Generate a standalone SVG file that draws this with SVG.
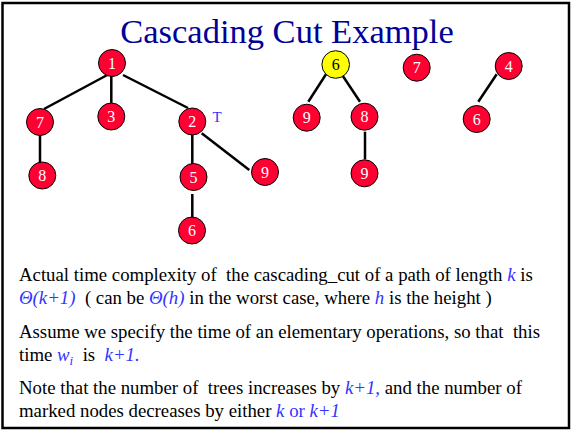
<svg xmlns="http://www.w3.org/2000/svg" width="572" height="430" viewBox="0 0 572 430">
<style>
.n{fill:#FF0033;stroke:#000;stroke-width:1}
.y{fill:#FFFF00;stroke:#000;stroke-width:1}
.nt{font-family:"Liberation Serif",serif;font-size:16px;fill:#fff;text-anchor:middle}
.yt{font-family:"Liberation Serif",serif;font-size:16px;fill:#000;text-anchor:middle}
.e{stroke:#000;stroke-width:2.5;fill:none}
.body{font-family:"Liberation Serif",serif;font-size:18.8px;fill:#000}
.b{fill:#3333FF}
.i{font-style:italic}
</style>
<rect x="2.5" y="3" width="566.5" height="425" fill="#fff" stroke="#000" stroke-width="2.5"/>
<text x="287" y="43" text-anchor="middle" font-family="Liberation Serif,serif" font-size="34.5" fill="#000099">Cascading Cut Example</text>
<g id="connectors">
<line class="e" x1="111" y1="73" x2="44" y2="109"/>
<line class="e" x1="111.3" y1="73" x2="111.3" y2="103"/>
<line class="e" x1="123" y1="75" x2="188" y2="108"/>
<line class="e" x1="40" y1="135" x2="40" y2="163"/>
<line class="e" x1="192.3" y1="135" x2="192.3" y2="165"/>
<line class="e" x1="201.7" y1="133.3" x2="249.3" y2="170"/>
<line class="e" x1="192.3" y1="194" x2="192.3" y2="218"/>
<line class="e" x1="326" y1="74.3" x2="308.3" y2="101.7"/>
<line class="e" x1="341.7" y1="74.3" x2="360" y2="101.7"/>
<line class="e" x1="365" y1="131.7" x2="365" y2="159.3"/>
<line class="e" x1="496.7" y1="74.3" x2="478.3" y2="101.7"/>
</g>
<g id="n1"><circle class="n" cx="112" cy="63" r="13.5"/><text class="nt" x="112" y="68.5">1</text></g>
<g id="n7a"><circle class="n" cx="40" cy="122" r="13.5"/><text class="nt" x="40" y="127.5">7</text></g>
<g id="n3"><circle class="n" cx="111.3" cy="116.5" r="13.5"/><text class="nt" x="111.3" y="122">3</text></g>
<g id="n2"><circle class="n" cx="192.3" cy="121.5" r="13.5"/><text class="nt" x="192.3" y="127">2</text></g>
<text x="217" y="121.5" font-family="Liberation Serif,serif" font-size="15" fill="#3333FF" text-anchor="middle">T</text>
<g id="n8a"><circle class="n" cx="42.3" cy="175.5" r="13.5"/><text class="nt" x="42.3" y="181">8</text></g>
<g id="n5"><circle class="n" cx="193.5" cy="177" r="13.5"/><text class="nt" x="193.5" y="182.5">5</text></g>
<g id="n9a"><circle class="n" cx="265" cy="172" r="13.5"/><text class="nt" x="265" y="177.5">9</text></g>
<g id="n6a"><circle class="n" cx="192" cy="230.5" r="13.5"/><text class="nt" x="192" y="236">6</text></g>
<g id="n6y"><circle class="y" cx="335.7" cy="64.5" r="13.8"/><text class="yt" x="335.7" y="70">6</text></g>
<g id="n7b"><circle class="n" cx="416.7" cy="67.7" r="13.5"/><text class="nt" x="416.7" y="73.2">7</text></g>
<g id="n4"><circle class="n" cx="508.7" cy="66" r="13.5"/><text class="nt" x="508.7" y="71.5">4</text></g>
<g id="n9b"><circle class="n" cx="306.7" cy="117.7" r="13.5"/><text class="nt" x="306.7" y="123.2">9</text></g>
<g id="n8b"><circle class="n" cx="364.5" cy="116.7" r="13.5"/><text class="nt" x="364.5" y="122.2">8</text></g>
<g id="n9c"><circle class="n" cx="364.5" cy="173.3" r="13.5"/><text class="nt" x="364.5" y="178.8">9</text></g>
<g id="n6b"><circle class="n" cx="476.7" cy="119" r="13.5"/><text class="nt" x="476.7" y="124.5">6</text></g>
<text class="body" x="19" y="281" xml:space="preserve">Actual time complexity of  the cascading_cut of a path of length <tspan class="b i">k</tspan> is</text>
<text class="body" x="19" y="303.5" xml:space="preserve"><tspan class="b i">Θ(k+1)</tspan>  ( can be <tspan class="b i">Θ(h)</tspan> in the worst case, where <tspan class="b i">h</tspan> is the height )</text>
<text class="body" x="19" y="337.5" xml:space="preserve">Assume we specify the time of an elementary operations, so that  this</text>
<text class="body" x="19" y="361" xml:space="preserve">time <tspan class="b i">w</tspan><tspan class="b i" font-size="13" dy="4">i</tspan><tspan dy="-4">  is  </tspan><tspan class="b i">k+1.</tspan></text>
<text class="body" x="19" y="394" xml:space="preserve">Note that the number of  trees increases by <tspan class="b i">k+1,</tspan> and the number of</text>
<text class="body" x="19" y="417" xml:space="preserve">marked nodes decreases by either <tspan class="b i">k</tspan><tspan class="b"> or </tspan><tspan class="b i">k+1</tspan></text>
</svg>
